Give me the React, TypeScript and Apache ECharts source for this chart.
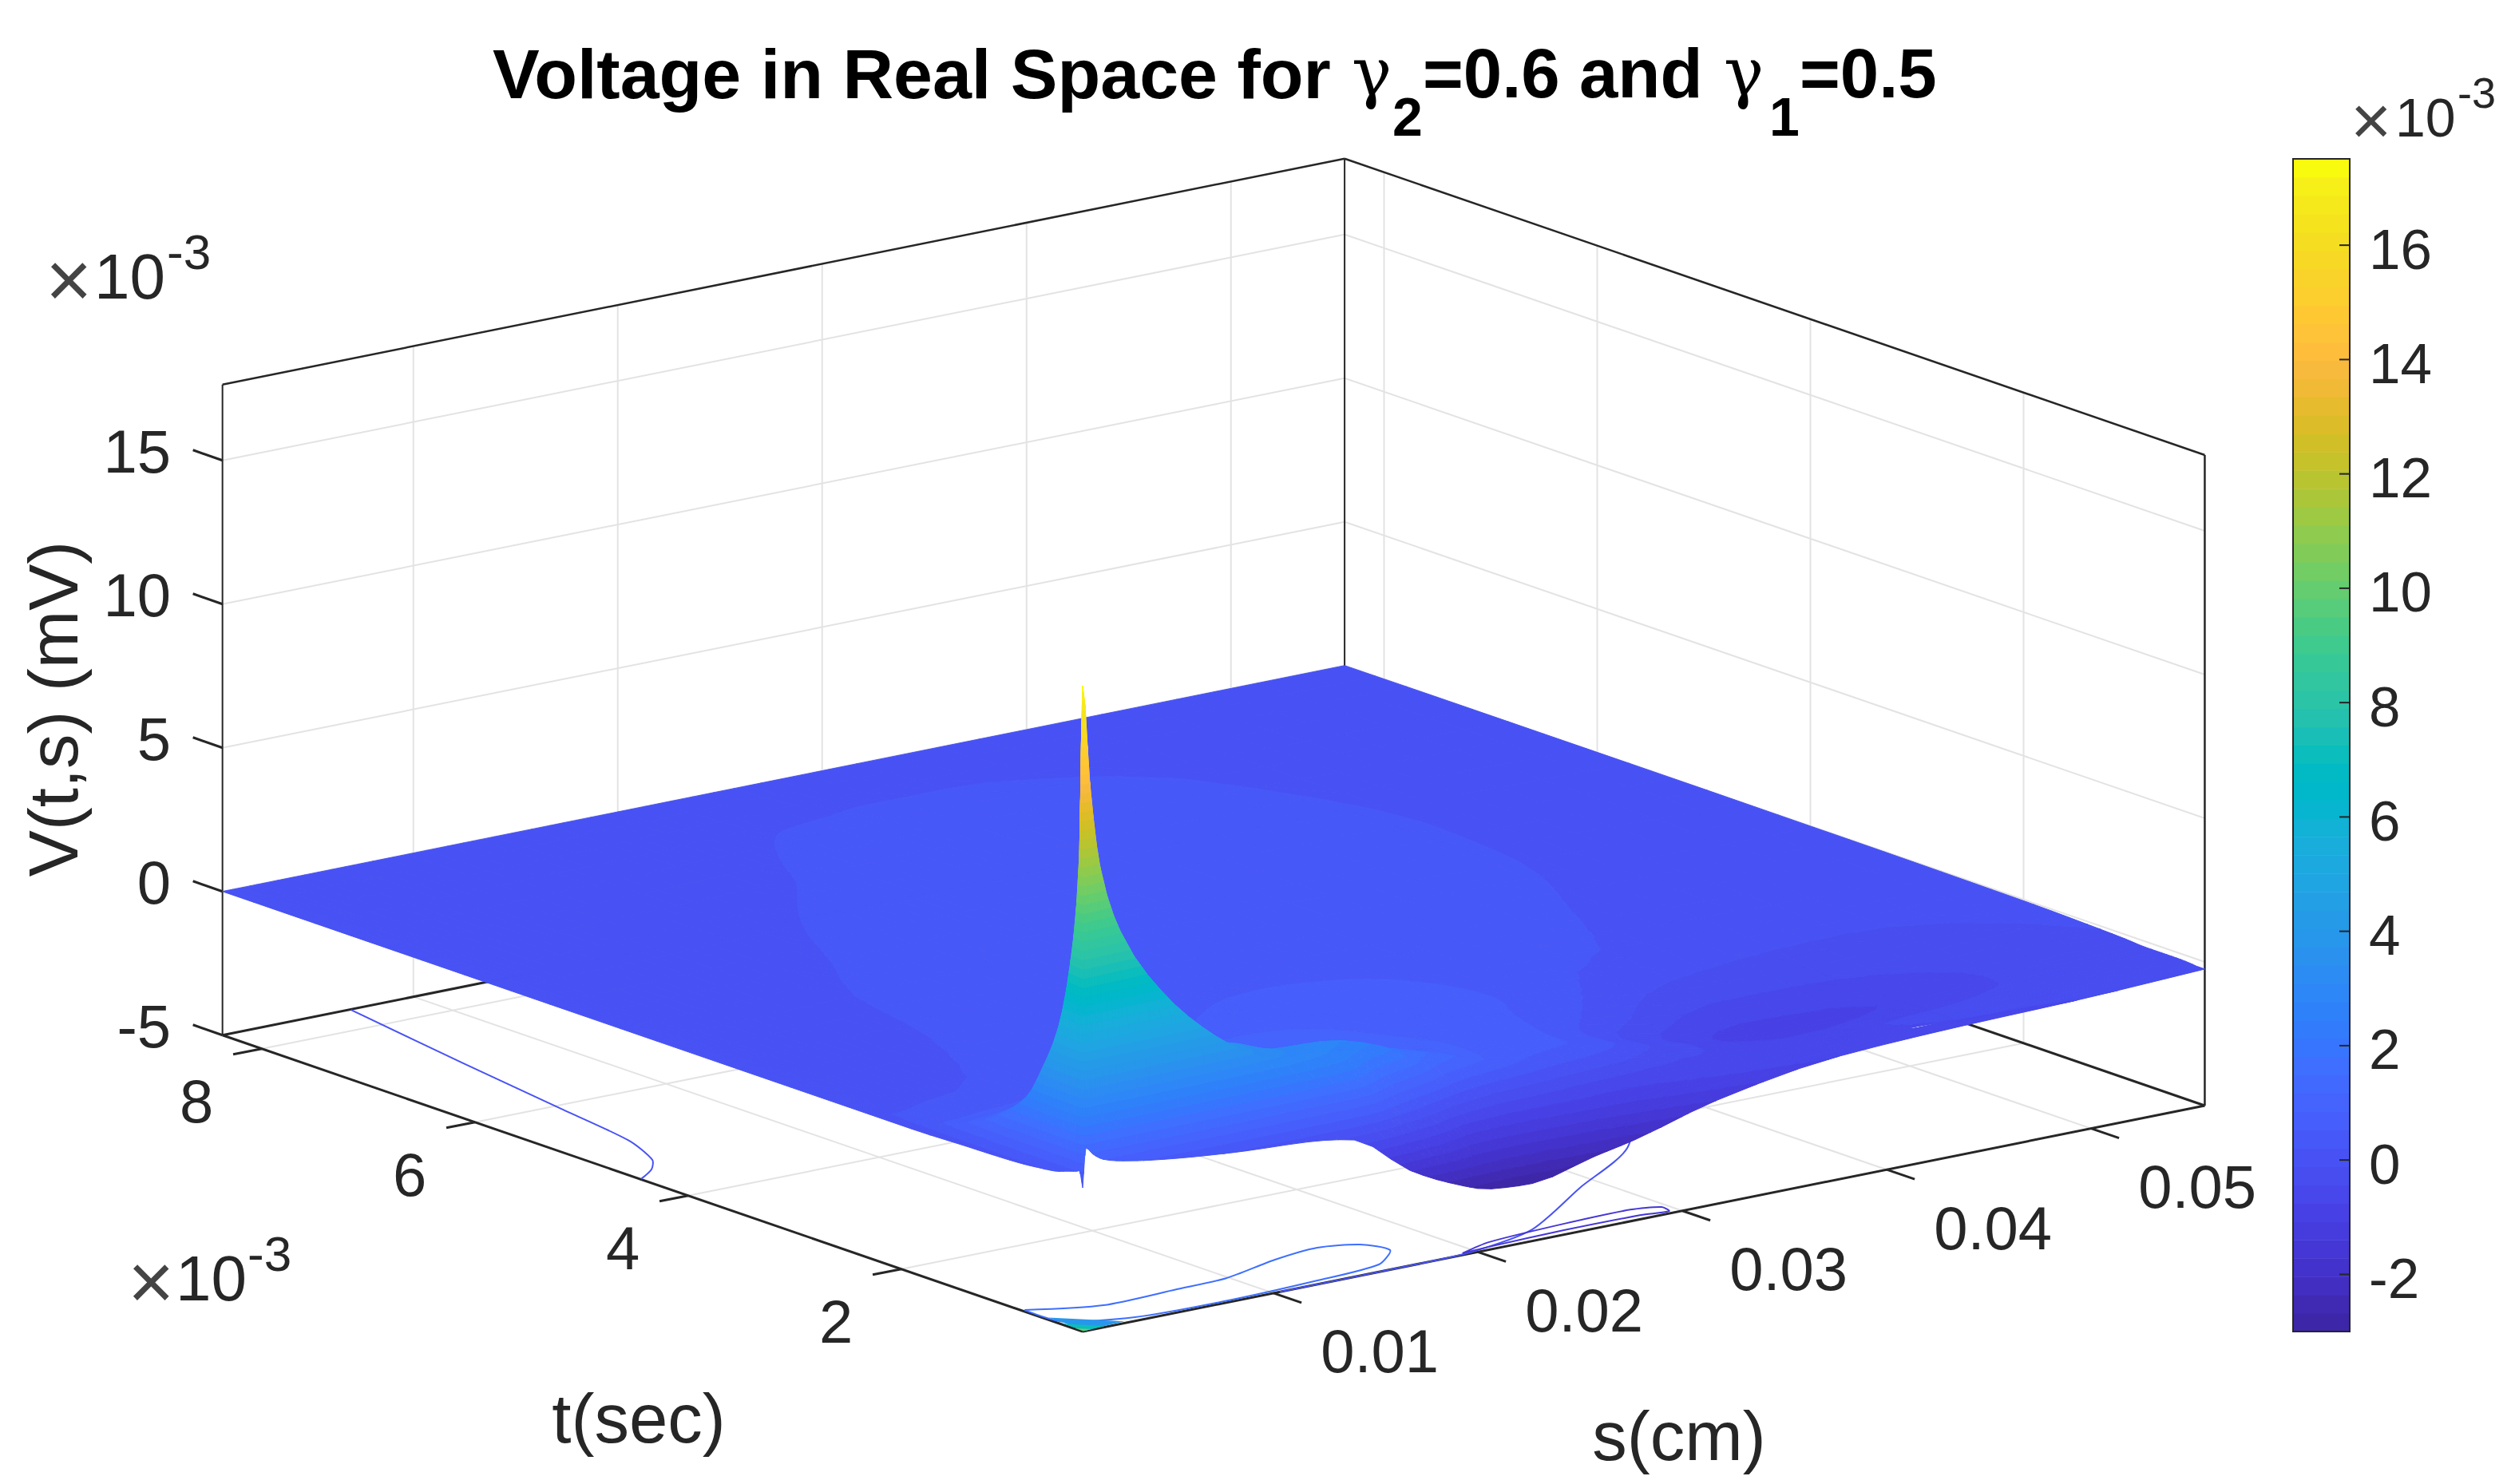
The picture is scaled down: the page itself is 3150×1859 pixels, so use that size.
import React, { useEffect, useRef } from "react";
import * as echarts from "echarts";

// ---------- tick labels ----------
const tTicks = [2, 4, 6, 8]; // x 10^-3 s
const sTicks = [0.01, 0.02, 0.03, 0.04, 0.05];
const zTicks = [-5, 0, 5, 10, 15]; // x 10^-3 mV
const colorbarTicks = [-2, 0, 2, 4, 6, 8, 10, 12, 14, 16];
const tLim = [0.3, 8.37];
const sLim = [0.00066, 0.05556];
const zLim = [-5, 17.64];
const cLim = [-3.0, 17.51];

// ---------- surface V(t,s), x 10^-3 mV ----------
const tNodes = [0.3, 0.33, 0.36, 0.44, 0.56, 0.7, 0.85, 1.05, 1.4, 1.9, 2.5, 3.3, 4.3, 5.3, 6.5, 7.5, 8.37];
const sNodes = [0.00066, 0.00082, 0.00116, 0.00166, 0.00266, 0.00466, 0.00666, 0.00866, 0.01166, 0.01396, 0.01666, 0.01866, 0.02066, 0.02266, 0.02566, 0.02766, 0.03166, 0.03766, 0.04366, 0.04916, 0.05556];
const voltage = [
  [0, 1.36, 1.1, 0.85, 0.65, 0.42, 0.26, 0.14, 0.02, -0.24, -1.68, -2.41, -2.9, -3.0, -2.5, -2.2, -1.4, -0.72, -0.53, -0.44, -0.25],
  [0.55, 17.4, 14, 11, 8.6, 6.25, 4.7, 3.6, 2.6, 2.0, -0.5, -1.4, -2.1, -2.2, -2.0, -1.8, -1.15, -0.65, -0.5, -0.42, -0.25],
  [0.5, 11.5, 11, 9.5, 7.6, 5.6, 4.4, 3.6, 2.9, 2.4, 0.1, -0.9, -1.8, -1.9, -1.7, -1.5, -0.95, -0.55, -0.45, -0.4, -0.25],
  [0.4, 7.76, 7.5, 7, 6, 4.9, 4.1, 3.6, 3.0, 2.7, 1.2, 0, -1.0, -1.1, -1.0, -1.0, -0.7, -0.5, -0.42, -0.35, -0.22],
  [0.25, 5.2, 5.0, 4.8, 4.5, 4.0, 3.7, 3.6, 2.9, 2.85, 2.3, 1.4, 0.3, -0.2, -0.4, -0.55, -0.6, -0.5, -0.4, -0.35, -0.2],
  [0.18, 3.7, 3.6, 3.5, 3.4, 3.2, 3.1, 2.9, 2.7, 2.55, 2.1, 1.7, 1.25, 0.8, 0.3, 0.15, -0.35, -0.6, -0.5, -0.35, -0.2],
  [0.12, 2.47, 2.45, 2.4, 2.35, 2.3, 2.25, 2.2, 2.15, 2.1, 1.85, 1.5, 1.15, 0.85, 0.6, 0.5, -0.2, -0.8, -0.65, -0.4, -0.2],
  [0.08, 1.7, 1.7, 1.7, 1.65, 1.6, 1.6, 1.6, 1.6, 1.6, 1.5, 1.3, 1.05, 0.85, 0.65, 0.5, -0.25, -0.9, -0.75, -0.4, -0.15],
  [0.05, 0.85, 0.88, 0.9, 0.95, 1.0, 1.1, 1.15, 1.2, 1.2, 1.15, 1.05, 0.9, 0.8, 0.65, 0.55, 0.1, -0.55, -0.5, -0.3, -0.1],
  [0, 0.3, 0.3, 0.3, 0.33, 0.38, 0.45, 0.55, 0.72, 0.82, 0.88, 0.85, 0.8, 0.75, 0.66, 0.6, 0.35, -0.1, -0.2, -0.15, -0.05],
  [0, 0.12, 0.12, 0.13, 0.14, 0.16, 0.21, 0.28, 0.36, 0.42, 0.5, 0.55, 0.58, 0.58, 0.56, 0.53, 0.38, 0.2, 0.06, -0.04, -0.03],
  [0, 0.08, 0.08, 0.09, 0.1, 0.12, 0.15, 0.2, 0.26, 0.31, 0.38, 0.43, 0.46, 0.47, 0.46, 0.42, 0.35, 0.25, 0.14, 0.04, -0.01],
  [0, 0.05, 0.05, 0.06, 0.07, 0.09, 0.12, 0.17, 0.23, 0.27, 0.32, 0.35, 0.38, 0.4, 0.41, 0.4, 0.37, 0.29, 0.19, 0.08, 0],
  [0, 0.03, 0.03, 0.03, 0.04, 0.05, 0.07, 0.1, 0.16, 0.21, 0.26, 0.29, 0.32, 0.34, 0.36, 0.36, 0.34, 0.3, 0.2, 0.09, 0.01],
  [0, 0.02, 0.02, 0.02, 0.02, 0.03, 0.05, 0.07, 0.1, 0.13, 0.17, 0.2, 0.24, 0.27, 0.3, 0.31, 0.3, 0.26, 0.16, 0.08, 0.01],
  [0, 0.01, 0.01, 0.01, 0.01, 0.02, 0.02, 0.03, 0.05, 0.07, 0.1, 0.13, 0.16, 0.19, 0.2, 0.21, 0.21, 0.17, 0.1, 0.05, 0.01],
  [0, 0, 0, 0, 0, 0, 0, 0, 0, 0, 0, 0, 0, 0, 0, 0, 0, 0, 0, 0, 0],
];

// ---------- contours on the floor: [t, s] ----------
const contourUpper = [[8.36, 0.0069], [7.05, 0.00557], [5.91, 0.0045], [5.15, 0.00376], [4.74, 0.00276], [4.58, 0.00189], [4.45, 0.0007]];
const contourLoopA = [[0.87, 0.00079], [0.68, 0.00366], [0.7, 0.00736], [0.72, 0.00987], [0.87, 0.01304], [0.93, 0.01542], [0.835, 0.01703], [0.635, 0.01745], [0.428, 0.01582], [0.365, 0.01249], [0.33, 0.00765], [0.365, 0.00356], [0.55, 0.00092], [0.87, 0.00079]];
const contourLine = [[0.3, 0.0103], [0.3, 0.0166], [0.32, 0.0197], [0.5, 0.0237], [1.05, 0.0289], [1.58, 0.034], [2.8, 0.041]];
const contourLoopB = [[0.33, 0.0194], [0.43, 0.0212], [0.487, 0.0252], [0.5, 0.0285], [0.437, 0.0297], [0.34, 0.02956], [0.37, 0.02834], [0.376, 0.0246], [0.35, 0.0208], [0.33, 0.0194]];
const contourCornerA = [[0.66, 0.00086], [0.33, 0.00286], [0.31, 0.00086]];
const contourCornerB = [[0.5, 0.00076], [0.32, 0.00186], [0.305, 0.00076]];
const contourCornerC = [[0.38, 0.00072], [0.31, 0.00116], [0.303, 0.00072]];
const contourLines = [
  { level: 0.1, points: contourUpper },
  { level: 1.6, points: contourLoopA },
  { level: 0.1, points: contourLine },
  { level: -1.5, points: contourLoopB },
];
const contourFills = [
  { level: 4, points: contourCornerA },
  { level: 7, points: contourCornerB },
  { level: 10, points: contourCornerC },
];

// parula, 64 levels
const parula = [
  [0.2422, 0.1504, 0.6603], [0.2504, 0.165, 0.7076], [0.2578, 0.1818, 0.7511], [0.2647, 0.1978, 0.7952],
  [0.2706, 0.2147, 0.8364], [0.2751, 0.2342, 0.871], [0.2783, 0.2559, 0.8991], [0.2803, 0.2782, 0.9221],
  [0.2813, 0.3006, 0.9414], [0.281, 0.3228, 0.9579], [0.2795, 0.3447, 0.9717], [0.276, 0.3667, 0.9829],
  [0.2699, 0.3892, 0.9906], [0.2602, 0.4123, 0.9952], [0.244, 0.4358, 0.9988], [0.2206, 0.4603, 0.9973],
  [0.1963, 0.4847, 0.9892], [0.1834, 0.5074, 0.9798], [0.1786, 0.5289, 0.9682], [0.1764, 0.5499, 0.952],
  [0.1687, 0.5703, 0.9359], [0.154, 0.5902, 0.9218], [0.146, 0.6091, 0.9079], [0.138, 0.6276, 0.8973],
  [0.1248, 0.6459, 0.8883], [0.1113, 0.6635, 0.8763], [0.0952, 0.6798, 0.8598], [0.0689, 0.6948, 0.8394],
  [0.0297, 0.7082, 0.8163], [0.0036, 0.7203, 0.7917], [0.0067, 0.7312, 0.766], [0.0433, 0.7411, 0.7394],
  [0.0964, 0.75, 0.712], [0.1408, 0.7584, 0.6842], [0.1717, 0.767, 0.6554], [0.1938, 0.7758, 0.6251],
  [0.2161, 0.7843, 0.5923], [0.247, 0.7918, 0.5567], [0.2906, 0.7973, 0.5188], [0.3406, 0.8008, 0.4789],
  [0.3909, 0.8029, 0.4354], [0.4456, 0.8024, 0.3909], [0.5044, 0.7993, 0.348], [0.5616, 0.7942, 0.3045],
  [0.6174, 0.7876, 0.2612], [0.672, 0.7793, 0.2227], [0.7242, 0.7698, 0.191], [0.7738, 0.7598, 0.1646],
  [0.8203, 0.7498, 0.1535], [0.8634, 0.7406, 0.1596], [0.9035, 0.733, 0.1774], [0.9393, 0.7288, 0.21],
  [0.9728, 0.7298, 0.2394], [0.9956, 0.7434, 0.2371], [0.997, 0.7659, 0.2199], [0.9952, 0.7861, 0.199],
  [0.9892, 0.8073, 0.1794], [0.9786, 0.8282, 0.1633], [0.9676, 0.8493, 0.1467], [0.961, 0.87, 0.1309],
  [0.9597, 0.8911, 0.1176], [0.9629, 0.9132, 0.105], [0.9691, 0.9375, 0.095], [0.9763, 0.9831, 0.0538],
];
const parulaCss = parula.map(([r, g, b]) => `rgb(${Math.round(r * 255)},${Math.round(g * 255)},${Math.round(b * 255)})`);
const LEVELS = parula.length;
const levelOf = (z: number) => {
  const i = Math.floor(((z - cLim[0]) / (cLim[1] - cLim[0])) * LEVELS);
  return Math.max(0, Math.min(LEVELS - 1, i));
};
const levelBound = (i: number) => cLim[0] + (i / LEVELS) * (cLim[1] - cLim[0]);

// orthographic view of the MATLAB axes, onto the hidden pixel-plane axes
const project = (t: number, s: number, z: number) => [
  1356 + 25600 * (s - sLim[0]) - 133.5 * (t - tLim[0]),
  1668 - 5155 * (s - sLim[0]) - 46 * (t - tLim[0]) - 36 * (z - zLim[0]),
];

const FONT = "'Liberation Sans', Arial, Helvetica, sans-serif";
const INK = "#262626";
const GRID = "#e3e3e3";

// "shading interp": the facets drawn between the read nodes (monotone, so no new extremes)
function slopes(x: number[], y: number[]) {
  const n = x.length;
  const h = x.slice(1).map((v, i) => v - x[i]);
  const d = h.map((v, i) => (y[i + 1] - y[i]) / v);
  const m = new Array(n).fill(0);
  m[0] = d[0];
  m[n - 1] = d[n - 2];
  for (let i = 1; i < n - 1; i++) {
    if (d[i - 1] * d[i] > 0) {
      const w1 = 2 * h[i] + h[i - 1], w2 = h[i] + 2 * h[i - 1];
      m[i] = (w1 + w2) / (w1 / d[i - 1] + w2 / d[i]);
    }
  }
  return m;
}
function facetCurve(x: number[], y: number[], k: number) {
  const m = slopes(x, y);
  const out: number[] = [];
  for (let i = 0; i < x.length - 1; i++) {
    const h = x[i + 1] - x[i];
    for (let j = 0; j < k; j++) {
      const u = j / k, u2 = u * u, u3 = u2 * u;
      out.push((2 * u3 - 3 * u2 + 1) * y[i] + (u3 - 2 * u2 + u) * h * m[i] + (-2 * u3 + 3 * u2) * y[i + 1] + (u3 - u2) * h * m[i + 1]);
    }
  }
  out.push(y[y.length - 1]);
  return out;
}
const linearFacets = (x: number[], k: number) => {
  const out: number[] = [];
  for (let i = 0; i < x.length - 1; i++) for (let j = 0; j < k; j++) out.push(x[i] + ((x[i + 1] - x[i]) * j) / k);
  out.push(x[x.length - 1]);
  return out;
};
const FACETS = 3;
const tFine = linearFacets(tNodes, FACETS);
const sFine = linearFacets(sNodes, FACETS);
const zBySRow = voltage.map((row) => facetCurve(sNodes, row, FACETS));
const zColumns = sFine.map((_, c) => facetCurve(tNodes, zBySRow.map((row) => row[c]), FACETS));

function clipBand(tri: number[][], lo: number, hi: number) {
  const cut = (pts: number[][], bound: number, keepAbove: boolean) => {
    const out: number[][] = [];
    for (let i = 0; i < pts.length; i++) {
      const a = pts[i];
      const b = pts[(i + 1) % pts.length];
      const ina = keepAbove ? a[2] >= bound : a[2] <= bound;
      const inb = keepAbove ? b[2] >= bound : b[2] <= bound;
      if (ina) out.push(a);
      if (ina !== inb) {
        const f = (bound - a[2]) / (b[2] - a[2]);
        out.push([a[0] + (b[0] - a[0]) * f, a[1] + (b[1] - a[1]) * f, bound]);
      }
    }
    return out;
  };
  let poly = cut(tri, lo, true);
  if (poly.length) poly = cut(poly, hi, false);
  return poly;
}

const polyEl = (pts: number[][], fill: string) => ({
  type: "polygon",
  shape: { points: pts },
  style: { fill, stroke: fill, lineWidth: 1 },
  silent: true,
});

function renderCell(_: any, api: any) {
  const r = api.value(0);
  const c = api.value(1);
  const vtx = (i: number, j: number) => {
    const z = zColumns[j][i];
    const p = api.coord(project(tFine[i], sFine[j], z));
    return [p[0], p[1], z];
  };
  const front = vtx(r, c), right = vtx(r, c + 1), left = vtx(r + 1, c), back = vtx(r + 1, c + 1);
  const children: any[] = [];
  const lv = [front, right, left, back].map((p) => levelOf(p[2]));
  if (lv.every((l) => l === lv[0])) {
    children.push(polyEl([front, right, back, left].map((p) => [p[0], p[1]]), parulaCss[lv[0]]));
    return { type: "group", children };
  }
  const tri = (T: number[][]) => {
    const zs = T.map((p) => p[2]);
    const a = levelOf(Math.min(...zs)), b = levelOf(Math.max(...zs));
    for (let l = a; l <= b; l++) {
      const lo = l === 0 ? -1e9 : levelBound(l);
      const hi = l === LEVELS - 1 ? 1e9 : levelBound(l + 1);
      const poly = clipBand(T, lo, hi);
      if (poly.length >= 3) children.push(polyEl(poly.map((p) => [p[0], p[1]]), parulaCss[l]));
    }
  };
  tri([back, left, right]);
  tri([left, right, front]);
  return { type: "group", children };
}

function renderFrame(_: any, api: any) {
  const P = (t: number, s: number, z: number) => api.coord(project(t, s, z));
  const [tA, tB] = tLim, [sA, sB] = sLim, [zA, zB] = zLim;
  const kids: any[] = [];
  const seg = (a: number[], b: number[], stroke: string, lineWidth: number) =>
    kids.push({ type: "line", shape: { x1: a[0], y1: a[1], x2: b[0], y2: b[1] }, style: { stroke, lineWidth }, silent: true });
  const txt = (text: string, x: number, y: number, fontSize: number, align = "center", rotation = 0, fill = INK) =>
    kids.push({
      type: "text", x, y, rotation, silent: true,
      style: { text, fontSize, fontFamily: FONT, fill, align, verticalAlign: "middle" },
    });

  // grid lines on walls and floor
  zTicks.filter((z) => z > zA).forEach((z) => {
    seg(P(tB, sA, z), P(tB, sB, z), GRID, 2);
    seg(P(tB, sB, z), P(tA, sB, z), GRID, 2);
  });
  sTicks.forEach((s) => {
    seg(P(tB, s, zA), P(tB, s, zB), GRID, 2);
    seg(P(tA, s, zA), P(tB, s, zA), GRID, 2);
  });
  tTicks.forEach((t) => {
    seg(P(t, sB, zA), P(t, sB, zB), GRID, 2);
    seg(P(t, sA, zA), P(t, sB, zA), GRID, 2);
  });

  // box
  seg(P(tB, sA, zA), P(tB, sA, zB), INK, 2);
  seg(P(tB, sB, zA), P(tB, sB, zB), INK, 2);
  seg(P(tA, sB, zA), P(tA, sB, zB), INK, 2.5);
  seg(P(tB, sA, zB), P(tB, sB, zB), INK, 2.5);
  seg(P(tB, sB, zB), P(tA, sB, zB), INK, 2.5);
  seg(P(tB, sA, zA), P(tB, sB, zA), INK, 3);
  seg(P(tB, sB, zA), P(tA, sB, zA), INK, 3);
  seg(P(tB, sA, zA), P(tA, sA, zA), INK, 3);
  seg(P(tA, sA, zA), P(tA, sB, zA), INK, 3);

  // ticks and tick labels
  zTicks.forEach((z) => {
    const p = P(tB, sA, z);
    seg(p, [p[0] - 37, p[1] - 13], INK, 3);
    txt(String(z), 214, p[1] - 11, 76, "right");
  });
  tTicks.forEach((t) => {
    const p = P(t, sA, zA);
    seg(p, [p[0] - 36, p[1] + 7], INK, 3);
    txt(String(t), p[0] - 82, p[1] + 66, 76);
  });
  sTicks.forEach((s) => {
    const p = P(tA, s, zA);
    seg(p, [p[0] + 35, p[1] + 12], INK, 3);
    txt(s.toFixed(2), p[0] + 133, p[1] + 73, 76);
  });

  // axis titles and exponents
  txt("V(t,s) (mV)", 66, 888, 87, "center", Math.PI / 2);
  txt("t(sec)", 800, 1776, 87);
  txt("s(cm)", 2103, 1798, 87);
  txt("×", 57, 350, 100, "left", 0, "#444");
  txt("10", 118, 346, 80, "left");
  txt("-3", 209, 315, 62, "left");
  txt("×", 160, 1605, 100, "left", 0, "#444");
  txt("10", 220, 1601, 80, "left");
  txt("-3", 310, 1570, 62, "left");
  txt("×", 2944, 150, 88, "left", 0, "#444");
  txt("10", 3000, 147, 68, "left");
  txt("-3", 3078, 116, 54, "left");
  return { type: "group", children: kids };
}

function renderContours(_: any, api: any) {
  const kids: any[] = [];
  const floor = (pts: number[][]) => pts.map(([t, s]) => api.coord(project(t, s, zLim[0])));
  contourLines.forEach(({ level, points }) =>
    kids.push({
      type: "polyline",
      shape: { points: floor(points), smooth: 0.25 },
      style: { stroke: parulaCss[levelOf(level)], lineWidth: 2, fill: "none" },
      silent: true,
    })
  );
  contourFills.forEach(({ level, points }) =>
    kids.push({
      type: "polygon",
      shape: { points: floor(points) },
      style: { fill: parulaCss[levelOf(level)] },
      silent: true,
    })
  );
  return { type: "group", children: kids };
}

function renderBarSlice(_: any, api: any) {
  const i = api.value(0);
  const a = api.coord([0, levelBound(i)]);
  const b = api.coord([1, levelBound(i + 1)]);
  return {
    type: "rect",
    shape: { x: a[0], y: b[1], width: b[0] - a[0], height: a[1] - b[1] + 0.6 },
    style: { fill: parulaCss[i] },
    silent: true,
  };
}

function renderBarFrame(_: any, api: any) {
  const a = api.coord([0, cLim[0]]);
  const b = api.coord([1, cLim[1]]);
  const kids: any[] = [
    {
      type: "rect",
      shape: { x: a[0], y: b[1], width: b[0] - a[0], height: a[1] - b[1] },
      style: { fill: "none", stroke: INK, lineWidth: 2 },
      silent: true,
    },
  ];
  colorbarTicks.forEach((v) => {
    const p = api.coord([1, v]);
    kids.push({ type: "line", shape: { x1: p[0] - 13, y1: p[1], x2: p[0], y2: p[1] }, style: { stroke: INK, lineWidth: 2 }, silent: true });
    kids.push({
      type: "text", x: p[0] + 24, y: p[1] + 5, silent: true,
      style: { text: String(v), fontSize: 71, fontFamily: FONT, fill: INK, align: "left", verticalAlign: "middle" },
    });
  });
  return { type: "group", children: kids };
}

function buildOption() {
  const cells: number[][] = [];
  for (let r = tFine.length - 2; r >= 0; r--) {
    for (let c = sFine.length - 2; c >= 0; c--) cells.push([r, c]);
  }
  const title = { fontFamily: FONT, fontWeight: "bold", fontSize: 87, color: "#000", verticalAlign: "top", lineHeight: 100 };
  const gamma = { fontFamily: "'DejaVu Serif', serif", fontWeight: "normal", fontSize: 84, color: "#000", verticalAlign: "top", lineHeight: 100 };
  return {
    animation: false,
    backgroundColor: "#ffffff",
    title: {
      left: 617,
      top: 48,
      padding: 0,
      text: "{a|Voltage in Real Space for}{g|γ}{s|2}{b|=0.6 and}{h|γ}{s|1}{c|=0.5}",
      textStyle: {
        rich: {
          a: { ...title, fontSize: 88, width: 1076 },
          b: { ...title, width: 377 },
          c: { ...title },
          g: { ...gamma, width: 51 },
          h: { ...gamma, width: 57 },
          s: { fontFamily: FONT, fontWeight: "bold", fontSize: 68, color: "#000", width: 38, verticalAlign: "bottom", lineHeight: 132 },
        },
      },
    },
    grid: [
      { left: 0, top: 0, width: 3150, height: 1859 },
      { left: 2872, top: 199, width: 71, height: 1469 },
    ],
    xAxis: [
      { type: "value", min: 0, max: 3150, show: false, gridIndex: 0 },
      { type: "value", min: 0, max: 1, show: false, gridIndex: 1 },
    ],
    yAxis: [
      { type: "value", min: 0, max: 1859, inverse: true, show: false, gridIndex: 0 },
      { type: "value", gridIndex: 1, min: cLim[0], max: cLim[1], show: false },
    ],
    series: [
      { type: "custom", xAxisIndex: 0, yAxisIndex: 0, clip: false, silent: true, data: [[0, 0]], renderItem: renderFrame, z: 2 },
      { type: "custom", xAxisIndex: 0, yAxisIndex: 0, clip: false, silent: true, data: [[0, 0]], renderItem: renderContours, z: 3 },
      { type: "custom", xAxisIndex: 0, yAxisIndex: 0, clip: false, silent: true, data: cells, renderItem: renderCell, z: 4 },
      { type: "custom", xAxisIndex: 1, yAxisIndex: 1, clip: false, silent: true, data: parula.map((_, i) => [i, 0]), renderItem: renderBarSlice, encode: { x: 0 }, z: 5 },
      { type: "custom", xAxisIndex: 1, yAxisIndex: 1, clip: false, silent: true, data: [[0, 0]], renderItem: renderBarFrame, z: 6 },
    ],
  };
}

export default function App() {
  const ref = useRef<HTMLDivElement>(null);
  useEffect(() => {
    if (!ref.current) return;
    const chart = echarts.init(ref.current, undefined, { renderer: "svg" });
    chart.setOption(buildOption() as any);
    return () => chart.dispose();
  }, []);
  return <div ref={ref} style={{ position: "fixed", left: 0, top: 0, width: 3150, height: 1859 }} />;
}
